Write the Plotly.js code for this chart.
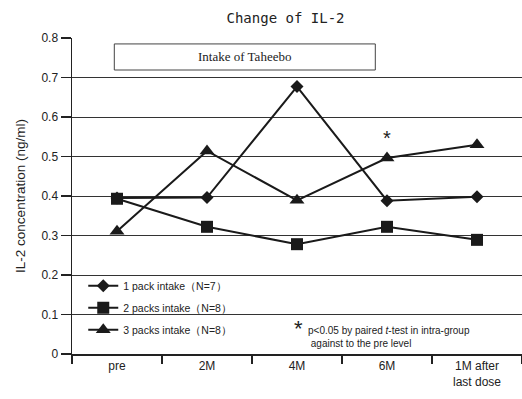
<!DOCTYPE html>
<html><head><meta charset="utf-8">
<script src="https://cdn.plot.ly/plotly-3.0.1.min.js"></script>
<style>html,body{margin:0;padding:0;background:#fff}#c{width:522px;height:399px}</style>
</head><body><div id="c"></div>
<script>
const categories = ["pre", "2M", "4M", "6M", "1M after<br>last dose"];
const onePack = [0.395, 0.396, 0.677, 0.388, 0.398];
const twoPacks = [0.393, 0.322, 0.278, 0.322, 0.289];
const threePacks = [0.311, 0.514, 0.389, 0.496, 0.530];
const seriesNames = ["1 pack intake（N=7）", "2 packs intake（N=8）", "3 packs intake（N=8）"];
const yTicks = [0, 0.1, 0.2, 0.3, 0.4, 0.5, 0.6, 0.7, 0.8];
const yTickText = ["0", "0.1", "0.2", "0.3", "0.4", "0.5", "0.6", "0.7", "0.8"];

const sans = "Liberation Sans, Arial, sans-serif";
const mk = (y, name, sym, size, grp) => ({
  x: categories, y: y, name: name, type: "scatter", mode: "lines+markers",
  legendgroup: grp,
  line: {color: "#1a1a1a", width: 2},
  marker: {symbol: sym, size: size, color: "#1a1a1a"}
});
const data = [
  mk(onePack, seriesNames[0], "diamond", 10, "a"),
  mk(twoPacks, seriesNames[1], "square", 12, "b"),
  mk(threePacks, seriesNames[2], "triangle-up", 13, "c")
];
const layout = {
  width: 522, height: 399,
  margin: {l: 72, r: 0, t: 38, b: 45},
  paper_bgcolor: "#fff", plot_bgcolor: "#fff",
  font: {family: sans, color: "#222", size: 12},
  title: {text: "Change of IL-2", font: {family: "DejaVu Sans Mono, monospace", size: 14, color: "#222"},
          x: 0.547, xanchor: "center", y: 1 - 18/399, yanchor: "middle", yref: "container"},
  xaxis: {type: "category", range: [-0.5, 4.5], tickson: "boundaries", ticks: "outside", ticklen: 8,
          tickcolor: "#222", tickwidth: 1.5, showgrid: false, showline: true, linecolor: "#222", linewidth: 1.5,
          tickfont: {size: 12, family: sans, color: "#222"}, zeroline: false, fixedrange: true},
  yaxis: {range: [0, 0.8], tickvals: yTicks, ticktext: yTickText, ticks: "outside", ticklen: 10,
          tickcolor: "#222", tickwidth: 1.2, showgrid: true, gridcolor: "#333", gridwidth: 1,
          showline: true, linecolor: "#222", linewidth: 1.5, zeroline: false,
          tickfont: {size: 12, family: sans, color: "#222"},
          title: {text: "IL-2 concentration (ng/ml)", font: {size: 13.5, family: sans, color: "#222"}, standoff: 12}},
  showlegend: true,
  legend: {x: 0.025, y: 0.262, xanchor: "left", yanchor: "top", bgcolor: "rgba(0,0,0,0)",
           font: {size: 10.5, family: sans, color: "#222"}, traceorder: "grouped", tracegroupgap: 3,
           itemwidth: 30},
  shapes: [
    {type: "rect", xref: "x", yref: "y", x0: -0.03, x1: 2.87, y0: 0.719, y1: 0.785,
     line: {color: "#444", width: 1}, fillcolor: "rgba(0,0,0,0)"}
  ],
  annotations: [
    {xref: "x", yref: "y", x: 1.42, y: 0.752, text: "Intake of Taheebo", showarrow: false,
     font: {family: "Liberation Serif, serif", size: 13, color: "#222"}},
    {xref: "x", yref: "y", x: 3, y: 0.548, text: "*", showarrow: false,
     font: {family: sans, size: 20, color: "#222"}},
    {xref: "paper", yref: "paper", x: (298-72)/450, y: (354-328)/316, text: "*", showarrow: false,
     xanchor: "center", yanchor: "middle", font: {family: sans, size: 22, color: "#222"}},
    {xref: "paper", yref: "paper", x: (306-72)/450, y: (354-337)/316, xanchor: "left", yanchor: "middle", align: "left",
     text: "p<0.05 by paired <i>t</i>-test in intra-group<br> against to the pre level", showarrow: false,
     font: {family: sans, size: 10, color: "#222"}}
  ]
};
Plotly.newPlot("c", data, layout, {staticPlot: true, displayModeBar: false});
</script></body></html>
